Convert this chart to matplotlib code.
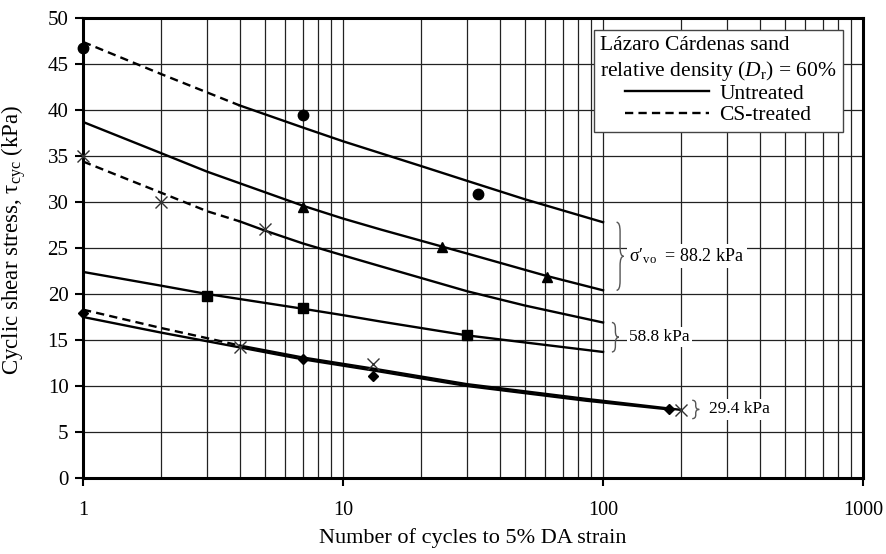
import numpy as np
import matplotlib
matplotlib.use("Agg")
import matplotlib.pyplot as plt
import matplotlib.transforms as mtransforms
from matplotlib.path import Path
from matplotlib.patches import PathPatch
from matplotlib.lines import Line2D

plt.rcParams['font.family'] = ['Liberation Serif', 'DejaVu Serif']
plt.rcParams['mathtext.fontset'] = 'custom'
plt.rcParams['mathtext.rm'] = 'Liberation Serif'
plt.rcParams['mathtext.it'] = 'Liberation Serif:italic'

# fitted curves (N cycles, tau_cyc kPa)
cs882_n = [1, 2, 4, 7, 10, 20, 30, 50, 100]
cs882_t = [47.4, 43.9, 40.5, 38.1, 36.6, 33.9, 32.3, 30.3, 27.8]
un882_n = [1, 2, 3, 7, 10, 14, 30, 60, 100]
un882_t = [38.7, 35.3, 33.3, 29.6, 28.2, 27.0, 24.4, 22.0, 20.4]
cs588_n = [1, 2, 3, 4, 5, 7, 10, 14, 30, 50, 100]
cs588_t = [34.4, 31.0, 29.0, 27.9, 26.9, 25.5, 24.2, 23.0, 20.3, 18.75, 16.9]
un588_n = [1, 2, 3, 7, 10, 14, 30, 100]
un588_t = [22.4, 20.9, 20.0, 18.4, 17.7, 17.0, 15.5, 13.7]
cs294_n = [1, 2, 3, 4, 7, 13, 30, 86, 200]
cs294_t = [18.3, 16.3, 15.2, 14.4, 13.1, 11.9, 10.2, 8.6, 7.4]
un294_n = [1, 2, 4, 7, 13, 30, 86, 180]
un294_t = [17.5, 15.8, 14.2, 12.9, 11.7, 10.0, 8.4, 7.45]

# test points
circ_n = [1, 7, 33]
circ_t = [46.7, 39.5, 30.9]
tri_n = [7, 24, 61]
tri_t = [29.5, 25.1, 21.8]
x588_n = [1, 2, 5]
x588_t = [35.0, 30.0, 27.1]
sq_n = [3, 7, 30]
sq_t = [19.8, 18.5, 15.5]
dia_n = [1, 7, 13, 180]
dia_t = [17.9, 12.9, 11.1, 7.45]
x294_n = [4, 13, 200]
x294_t = [14.2, 12.4, 7.4]

xticks = [1, 10, 100, 1000]
xtick_labels = ['1', '10', '100', '1000']
yticks = [0, 5, 10, 15, 20, 25, 30, 35, 40, 45, 50]

dash = (0, (3.5, 2.2))
lw = 1.7

fig = plt.figure(figsize=(8.87, 5.54), dpi=100)
ax = fig.add_axes([0.0936, 0.1372, 0.8794, 0.8303])
ax.set_xscale('log')
ax.set_xlim(1, 1000)
ax.set_ylim(0, 50)
ax.set_axisbelow(True)
ax.grid(True, which='both', axis='x', color='#222222', lw=0.9)
ax.grid(True, which='major', axis='y', color='#222222', lw=0.9)

def split_curve(n, t, split):
    k = n.index(split)
    ax.plot(n[:k + 1], t[:k + 1], color='k', lw=lw, ls=dash, zorder=3)
    ax.plot(n[k:], t[k:], color='k', lw=lw, zorder=3)

split_curve(cs882_n, cs882_t, 4)
split_curve(cs588_n, cs588_t, 4)
split_curve(cs294_n, cs294_t, 4)
ax.plot(un882_n, un882_t, color='k', lw=lw, zorder=3)
ax.plot(un588_n, un588_t, color='k', lw=lw, zorder=3)
ax.plot(un294_n, un294_t, color='k', lw=lw, zorder=3)

mk = dict(ls='none', color='k', zorder=4, clip_on=False)
ax.plot(circ_n, circ_t, marker='o', ms=7.5, **mk)
ax.plot(tri_n, tri_t, marker='^', ms=7.5, **mk)
ax.plot(sq_n, sq_t, marker='s', ms=6.5, **mk)
ax.plot(dia_n, dia_t, marker='D', ms=5.5, **mk)
ax.plot(x588_n, x588_t, marker='x', ms=8, mew=1.0, color='#333333', ls='none', zorder=4, clip_on=False)
ax.plot(x294_n, x294_t, marker='x', ms=8, mew=1.0, color='#333333', ls='none', zorder=4, clip_on=False)

# curly braces grouping the curves by effective stress
trans = mtransforms.blended_transform_factory(ax.transAxes, ax.transData)

def brace(x0, y_top, y_bot, w=0.009):
    ym = (y_top + y_bot) / 2
    h = min(1.0, (y_top - y_bot) * 0.2)
    xm = x0 + w / 2
    verts = [(x0, y_top), (xm, y_top), (xm, y_top - h), (xm, ym + h), (xm, ym),
             (x0 + w, ym), (xm, ym), (xm, ym - h), (xm, y_bot + h), (xm, y_bot), (x0, y_bot)]
    codes = [Path.MOVETO, Path.CURVE3, Path.CURVE3, Path.LINETO, Path.CURVE3, Path.CURVE3,
             Path.CURVE3, Path.CURVE3, Path.LINETO, Path.CURVE3, Path.CURVE3]
    ax.add_patch(PathPatch(Path(verts, codes), transform=trans, fill=False,
                           ec='#555555', lw=1.0, zorder=5, clip_on=False))

brace(0.684, cs882_t[-1], un882_t[-1])
brace(0.678, cs588_t[-1], un588_t[-1])
brace(0.781, un294_t[-1] + 1.0, un294_t[-1] - 1.0)

box = dict(fc='white', ec='none', pad=1.5)
ax.text(0.700, (cs882_t[-1] + un882_t[-1]) / 2, "σ′$_{\\rm vo}$  = 88.2 kPa", transform=trans,
        fontsize=13, va='center', ha='left', bbox=box, zorder=5)
ax.text(0.700, (cs588_t[-1] + un588_t[-1]) / 2, "58.8 kPa", transform=trans,
        fontsize=12.5, va='center', ha='left', bbox=box, zorder=5)
ax.text(0.803, un294_t[-1], "29.4 kPa", transform=trans,
        fontsize=12.5, va='center', ha='left', bbox=box, zorder=5)

handles = [Line2D([], [], color='k', lw=lw), Line2D([], [], color='k', lw=lw, ls=dash)]
leg = ax.legend(handles, ['Untreated', 'CS-treated'],
                title="Lázaro Cárdenas sand\nrelative density ($\\it{D}_{\\rm r}$) = 60%",
                loc='upper right', bbox_to_anchor=(0.974, 0.974), borderaxespad=0,
                fontsize=15.5, title_fontsize=15.5, handlelength=3.9, handletextpad=0.5,
                labelspacing=0.05, fancybox=False, framealpha=1, edgecolor='#444444',
                borderpad=0.3)
leg.get_frame().set_linewidth(1.0)
leg.set_zorder(6)

ax.set_xticks(xticks)
ax.set_xticklabels(xtick_labels)
ax.set_yticks(yticks)
ax.tick_params(axis='both', which='major', direction='out', length=5.5, width=1.5)
ax.tick_params(axis='x', which='major', pad=11, labelsize=14.5)
ax.tick_params(axis='y', which='major', pad=5, labelsize=15)
ax.tick_params(axis='x', which='minor', length=0)
for s in ax.spines.values():
    s.set_linewidth(2.2)

ax.set_xlabel("Number of cycles to 5% DA strain", fontsize=16, labelpad=6)
ax.set_ylabel("Cyclic shear stress, τ$_{\\rm cyc}$ (kPa)", fontsize=16.5)
ax.yaxis.set_label_coords(-0.0705, 0.517)

fig.savefig("out.png", dpi=100)
